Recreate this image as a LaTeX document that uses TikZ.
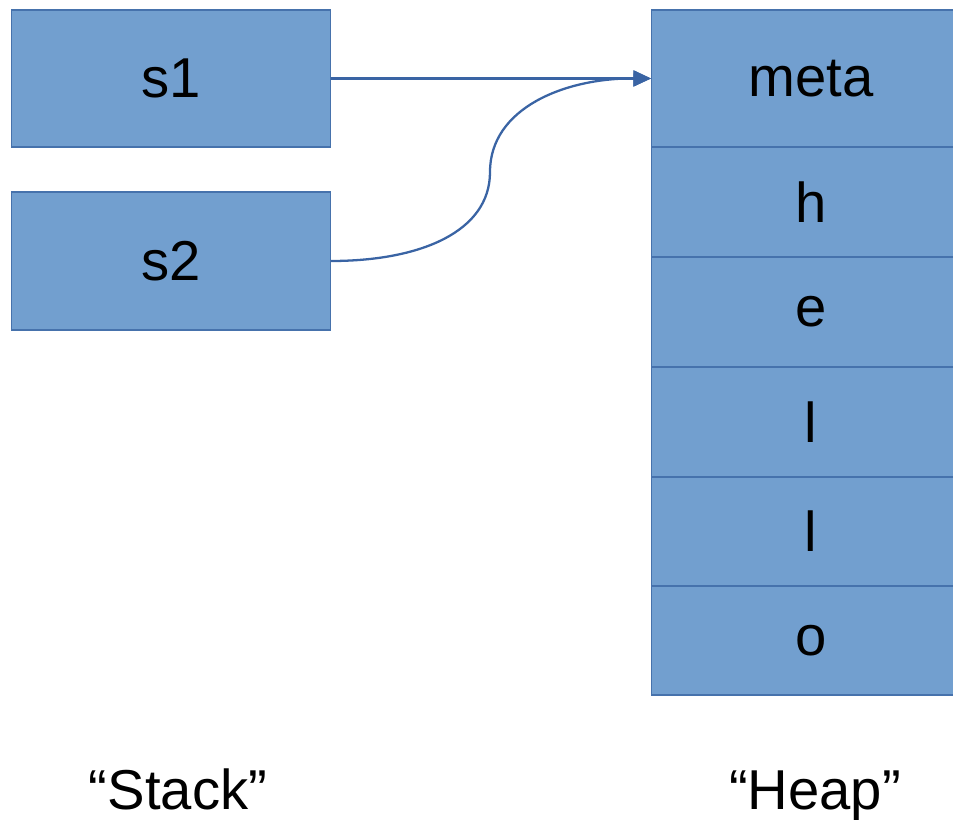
\documentclass[tikz,border=0pt]{standalone}
\usepackage{fontspec}
\setmainfont{Liberation Sans}
\usetikzlibrary{arrows.meta}

\definecolor{cellfill}{RGB}{114,159,207}
\definecolor{cellline}{RGB}{70,114,172}
\definecolor{ptrline}{RGB}{58,100,164}

\tikzset{
  cell/.style={draw=cellline, fill=cellfill, line width=0.6pt, inner sep=0pt, outer sep=0pt,
    minimum width=6.4cm, font=\fontsize{32}{38}\selectfont},
  ptr/.style={draw=ptrline, line width=1.3pt, -{Triangle[length=10pt,width=9pt]}},
  caption/.style={anchor=base, font=\fontsize{32}{38}\selectfont}
}

\begin{document}
\begin{tikzpicture}[x=0.02cm, y=-0.02cm]
	\useasboundingbox (0,0) rectangle (953,820);
	\clip (0,0) rectangle (953,820);
	% stack slots
	\node[cell, minimum height=2.74cm] (s1) at (171,78.5) {s1};
	\node[cell, minimum height=2.76cm] (s2) at (171,261) {s2};
	% heap cells
	\node[cell, minimum height=2.74cm] (meta) at (811,78.5) {meta};
	\node[cell, minimum height=2.2cm] (h) at (811,202) {h};
	\node[cell, minimum height=2.2cm] (e) at (811,312) {e};
	\node[cell, minimum height=2.2cm] (l1) at (811,422) {l};
	\node[cell, minimum height=2.18cm] (l2) at (811,531.5) {l};
	\node[cell, minimum height=2.18cm] (o) at (811,640.5) {o};
	% captions, on one baseline
	\node[caption] (stack) at (178,809) {“Stack”};
	\node[caption] (heap) at (815,809) {“Heap”};
	% pointers
	\draw[ptr] (s1.east) -- (meta.west);
	\draw[ptr] (s2.east) .. controls (420,261) and (490,232) .. (490,172)
		.. controls (490,108) and (565,78) .. (meta.west);
\end{tikzpicture}
\end{document}
